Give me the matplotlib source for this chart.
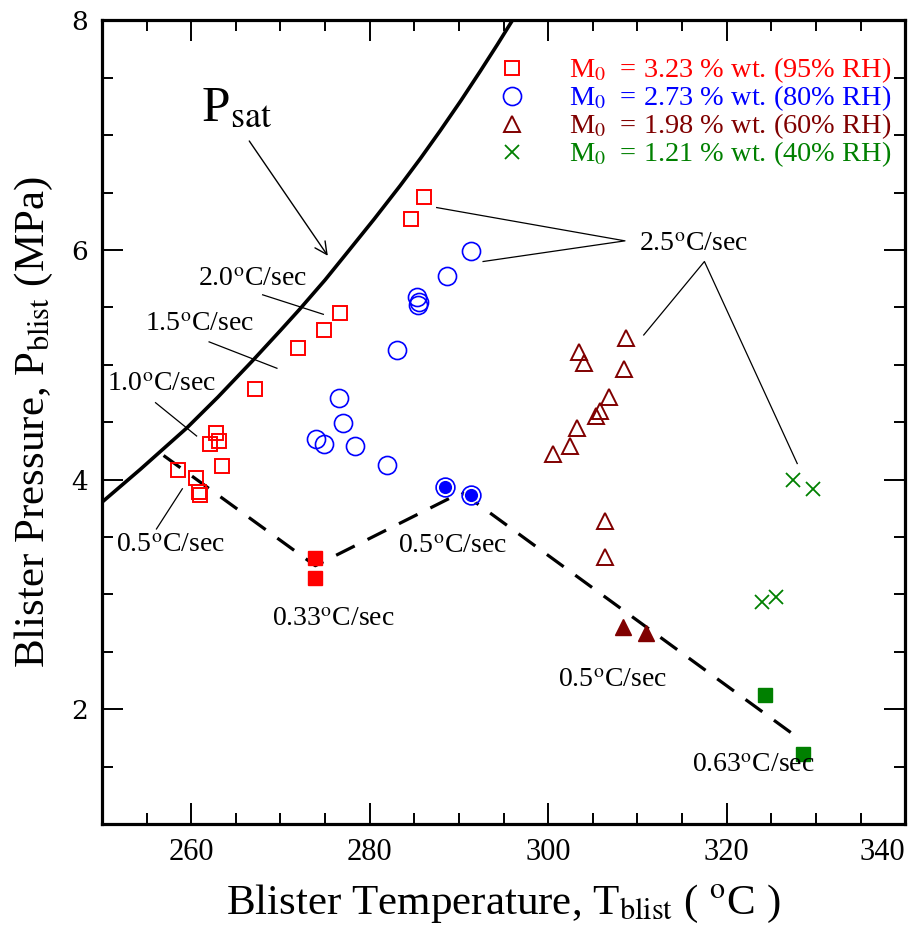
import matplotlib
matplotlib.use("Agg")
import matplotlib.pyplot as plt
from matplotlib.lines import Line2D
from matplotlib.ticker import MultipleLocator

plt.rcParams['font.family'] = ['Liberation Serif', 'DejaVu Serif']
plt.rcParams['mathtext.fontset'] = 'stix'

# saturation pressure curve
psat_T = [250.1, 254.3, 259.5, 263.0, 266.8, 270.0, 272.1, 275.0, 277.6, 280.5,
          283.4, 285.7, 287.9, 290.2, 292.4, 294.3, 296.3]
psat_P = [3.81, 4.09, 4.45, 4.72, 5.03, 5.30, 5.48, 5.74, 5.99, 6.27,
          6.56, 6.80, 7.04, 7.30, 7.56, 7.79, 8.04]

# 95% RH (red squares)
sq_T = [286.1, 284.6, 276.7, 274.9, 272.0, 267.1, 262.8, 263.1, 262.1, 263.4, 258.5, 260.5, 260.9, 261.0]
sq_P = [6.46, 6.27, 5.45, 5.30, 5.15, 4.79, 4.41, 4.34, 4.31, 4.12, 4.08, 4.01, 3.89, 3.87]
sq_fill_T = [273.9, 273.9]
sq_fill_P = [3.32, 3.14]

# 80% RH (blue circles)
circ_T = [291.4, 288.7, 285.3, 285.5, 285.4, 283.1, 276.6, 277.0, 274.0, 274.9, 278.4, 281.9]
circ_P = [5.99, 5.77, 5.59, 5.55, 5.52, 5.13, 4.71, 4.49, 4.35, 4.31, 4.29, 4.13]
circ_fill_T = [288.4, 291.3]
circ_fill_P = [3.94, 3.87]

# 60% RH (dark red triangles)
tri_T = [308.7, 303.5, 304.0, 308.5, 306.8, 305.8, 305.4, 303.2, 302.4, 300.5, 306.4, 306.4]
tri_P = [5.23, 5.11, 5.02, 4.96, 4.72, 4.60, 4.55, 4.45, 4.29, 4.22, 3.64, 3.33]
tri_fill_T = [308.4, 311.0]
tri_fill_P = [2.72, 2.66]

# 40% RH (green crosses)
x_T = [327.4, 329.7, 324.0, 325.5]
x_P = [4.00, 3.92, 2.93, 2.98]
x_fill_T = [324.3, 328.5]
x_fill_P = [2.12, 1.61]

# dashed line through the slow heating-rate points
dash_T = [256.9, 273.9, 290.3, 328.0]
dash_P = [4.21, 3.25, 3.89, 1.75]

xticks = [260, 280, 300, 320, 340]
legend_labels = [r"M$_0$  = 3.23 % wt. (95% RH)",
                 r"M$_0$  = 2.73 % wt. (80% RH)",
                 r"M$_0$  = 1.98 % wt. (60% RH)",
                 r"M$_0$  = 1.21 % wt. (40% RH)"]
red, blue, brown, green = '#ff0000', '#0000ff', '#800000', '#008000'

fig = plt.figure(figsize=(9.19, 9.30), dpi=100)
ax = fig.add_axes([0.111, 0.114, 0.874, 0.864])

ax.plot(psat_T, psat_P, color='black', lw=2.6, zorder=2)
ax.plot(dash_T, dash_P, color='black', lw=2.3, linestyle=(0, (6.5, 4.5)), zorder=2)

ax.plot(sq_T, sq_P, 's', ms=9.5, mfc='none', mec=red, mew=1.4, zorder=3)
ax.plot(sq_fill_T, sq_fill_P, 's', ms=9.5, mfc=red, mec=red, mew=1, zorder=3)
ax.plot(circ_T, circ_P, 'o', ms=13, mfc='none', mec=blue, mew=1.2, zorder=3)
ax.plot(circ_fill_T, circ_fill_P, 'o', ms=13.5, mfc='none', mec=blue, mew=1.2, zorder=3)
ax.plot(circ_fill_T, circ_fill_P, 'o', ms=10.5, mfc=blue, mec='white', mew=1.0, zorder=4)
ax.plot(tri_T, tri_P, '^', ms=12, mfc='none', mec=brown, mew=1.4, zorder=3)
ax.plot(tri_fill_T, tri_fill_P, '^', ms=12, mfc=brown, mec=brown, mew=1, zorder=3)
ax.plot(x_T, x_P, 'x', ms=9.5, mec=green, mew=1.3, zorder=3)
ax.plot(x_fill_T, x_fill_P, 's', ms=9.5, mfc=green, mec=green, mew=1, zorder=3)

# heating-rate annotations
fs = 20
ann = dict(fontsize=fs, ha='center', va='center')
ax.text(266.8, 5.74, r"2.0$^{\rm o}$C/sec", **ann)
ax.text(260.9, 5.35, r"1.5$^{\rm o}$C/sec", **ann)
ax.text(256.7, 4.83, r"1.0$^{\rm o}$C/sec", **ann)
ax.text(257.7, 3.43, r"0.5$^{\rm o}$C/sec", **ann)
ax.text(275.9, 2.78, r"0.33$^{\rm o}$C/sec", **ann)
ax.text(289.3, 3.42, r"0.5$^{\rm o}$C/sec", **ann)
ax.text(307.2, 2.25, r"0.5$^{\rm o}$C/sec", **ann)
ax.text(323.0, 1.51, r"0.63$^{\rm o}$C/sec", **ann)
ax.text(316.3, 6.05, r"2.5$^{\rm o}$C/sec", **ann)
ax.text(261.1, 7.12, r"P$_{\rm sat}$", fontsize=37, ha='left', va='baseline')

lk = dict(color='black', lw=0.9, zorder=2)
ax.plot([268.0, 274.8], [5.61, 5.44], **lk)
ax.plot([262.0, 269.6], [5.20, 4.97], **lk)
ax.plot([256.0, 260.6], [4.67, 4.38], **lk)
ax.plot([259.0, 256.1], [3.92, 3.57], **lk)
ax.plot([287.5, 308.6, 292.7], [6.37, 6.08, 5.90], **lk)
ax.plot([310.7, 317.5, 327.9], [5.26, 5.90, 4.14], **lk)
ax.annotate("", xy=(275.3, 5.95), xytext=(266.5, 6.95),
            arrowprops=dict(arrowstyle='->', color='black', lw=1.0,
                            mutation_scale=22, shrinkA=0, shrinkB=0))

handles = [Line2D([], [], marker='s', ls='none', ms=9.5, mfc='none', mec=red, mew=1.4),
           Line2D([], [], marker='o', ls='none', ms=13, mfc='none', mec=blue, mew=1.2),
           Line2D([], [], marker='^', ls='none', ms=12, mfc='none', mec=brown, mew=1.4),
           Line2D([], [], marker='x', ls='none', ms=9.5, mec=green, mew=1.3)]
ax.legend(handles, legend_labels, loc='upper right', bbox_to_anchor=(1.007, 0.981),
          frameon=False, fontsize=20.4, labelcolor=[red, blue, brown, green],
          handletextpad=1.5, labelspacing=-0.06, borderpad=0.2, handlelength=1.0)

ax.set_xlim(250, 340)
ax.set_ylim(1, 8)
ax.set_xticks(xticks)
ax.xaxis.set_minor_locator(MultipleLocator(5))
ax.yaxis.set_major_locator(MultipleLocator(2))
ax.yaxis.set_minor_locator(MultipleLocator(0.5))
ax.tick_params(which='both', direction='in', top=True, right=True, width=1.4)
ax.tick_params(which='major', length=15, labelsize=22, pad=10)
ax.tick_params(which='minor', length=8)
for lab in ax.get_yticklabels():
    lab.set_family('DejaVu Serif')
    lab.set_fontsize(19)
ax.get_xticklabels()[-1].set_horizontalalignment('right')
for sp in ax.spines.values():
    sp.set_linewidth(2.3)

ax.set_xlabel(r"Blister Temperature, T$_{\rm blist}$ ( $^{\rm o}$C )", fontsize=31)
ax.set_ylabel(r"Blister Pressure, P$_{\rm blist}$ (MPa)", fontsize=31)
ax.xaxis.set_label_coords(0.5, -0.073)
ax.yaxis.set_label_coords(-0.058, 0.5)

fig.savefig("out.png", dpi=100)
